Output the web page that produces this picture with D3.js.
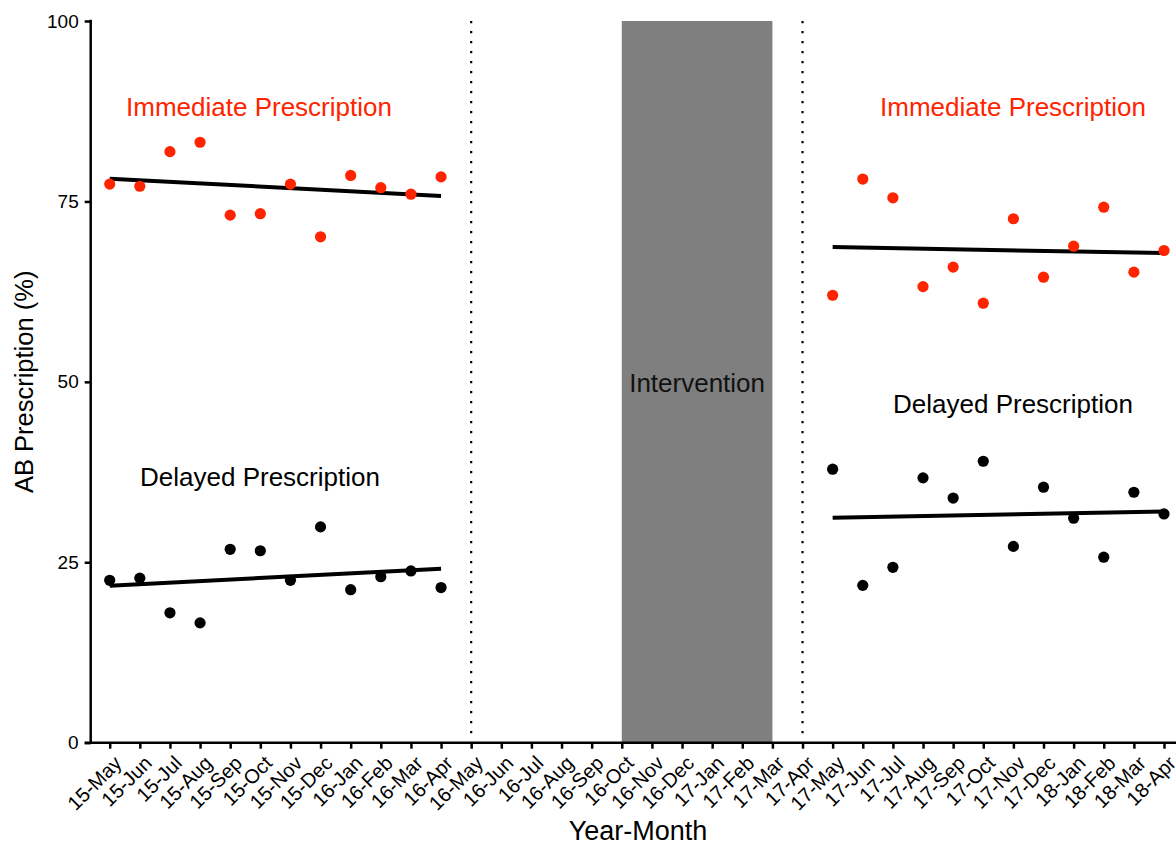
<!DOCTYPE html>
<html>
<head>
<meta charset="utf-8">
<script src="https://cdn.jsdelivr.net/npm/d3@7"></script>
<style>
  html, body { margin: 0; padding: 0; background: #fff; }
  svg { display: block; font-family: "Liberation Sans", Arial, Helvetica, sans-serif; }
</style>
</head>
<body>
<svg id="chart" width="1176" height="846"></svg>
<script>
// ---------- DATA ----------
const months = [
  "15-May","15-Jun","15-Jul","15-Aug","15-Sep","15-Oct","15-Nov","15-Dec","16-Jan","16-Feb","16-Mar","16-Apr",
  "16-May","16-Jun","16-Jul","16-Aug","16-Sep","16-Oct","16-Nov","16-Dec","17-Jan","17-Feb","17-Mar","17-Apr",
  "17-May","17-Jun","17-Jul","17-Aug","17-Sep","17-Oct","17-Nov","17-Dec","18-Jan","18-Feb","18-Mar","18-Apr"
];
const preMonths  = months.slice(0, 12);
const postMonths = months.slice(24, 36);

const preImmediate  = [77.4, 77.1, 81.9, 83.2, 73.1, 73.3, 77.4, 70.1, 78.6, 76.9, 76.0, 78.4];
const preDelayed    = [22.5, 22.8, 18.0, 16.6, 26.8, 26.6, 22.5, 29.9, 21.2, 23.0, 23.8, 21.5];
const postImmediate = [62.0, 78.1, 75.5, 63.2, 65.9, 60.9, 72.6, 64.5, 68.8, 74.2, 65.2, 68.2];
const postDelayed   = [37.9, 21.8, 24.3, 36.7, 33.9, 39.0, 27.2, 35.4, 31.1, 25.7, 34.7, 31.7];

const yTicks = [0, 25, 50, 75, 100];
const dividerMonths = ["16-May", "17-Apr"];
const interventionSpan = ["16-Oct", "17-Mar"];

// ---------- LAYOUT ----------
const svg = d3.select("#chart");
const RED = "#ff2400";
const x = d3.scalePoint().domain(months).range([109.7, 1164]);
const y = d3.scaleLinear().domain([0, 100]).range([742.7, 21]);
const axisX = 90.7;

// Intervention band
svg.append("rect")
  .attr("x", x(interventionSpan[0]))
  .attr("y", y(100))
  .attr("width", x(interventionSpan[1]) - x(interventionSpan[0]))
  .attr("height", y(0) - y(100))
  .attr("fill", "#7f7f7f");

svg.append("text")
  .attr("x", (x(interventionSpan[0]) + x(interventionSpan[1])) / 2)
  .attr("y", 392)
  .attr("text-anchor", "middle")
  .attr("font-size", 26)
  .attr("fill", "#111")
  .text("Intervention");

// Dotted dividers
dividerMonths.forEach(m => {
  svg.append("line")
    .attr("x1", x(m)).attr("x2", x(m))
    .attr("y1", y(100)).attr("y2", y(0) - 2)
    .attr("stroke", "#000")
    .attr("stroke-width", 2.2)
    .attr("stroke-dasharray", "2.2,7.8");
});

// Axes
const yAxis = d3.axisLeft(y).tickValues(yTicks).tickSize(6).tickPadding(6).tickFormat(d3.format("d"));
const gy = svg.append("g").attr("transform", `translate(${axisX},0)`).call(yAxis);
gy.select(".domain").remove();
gy.selectAll(".tick line").attr("stroke", "#000").attr("stroke-width", 2.5);
gy.selectAll(".tick text").attr("font-size", 19).attr("fill", "#000").attr("font-family", null);
svg.append("line")
  .attr("x1", axisX).attr("x2", axisX)
  .attr("y1", y(100) - 1.2).attr("y2", y(0) + 1.2)
  .attr("stroke", "#000").attr("stroke-width", 2.5);

const xAxis = d3.axisBottom(x).tickSize(6).tickPadding(4);
const gx = svg.append("g").attr("transform", `translate(0,${y(0)})`).call(xAxis);
gx.select(".domain").remove();
gx.selectAll(".tick line").attr("stroke", "#000").attr("stroke-width", 2.5);
gx.selectAll(".tick text")
  .attr("font-size", 20)
  .attr("fill", "#000")
  .attr("font-family", null)
  .attr("text-anchor", "end")
  .attr("dy", null)
  .attr("y", 0)
  .attr("transform", "translate(9,18) rotate(-45)")
  .attr("dominant-baseline", "middle");
svg.append("line")
  .attr("x1", axisX - 6).attr("x2", 1176)
  .attr("y1", y(0)).attr("y2", y(0))
  .attr("stroke", "#000").attr("stroke-width", 2.5);

// Axis titles
svg.append("text")
  .attr("transform", `translate(33,${(y(0) + y(100)) / 2}) rotate(-90)`)
  .attr("text-anchor", "middle")
  .attr("font-size", 25.5)
  .attr("fill", "#000")
  .text("AB Prescription (%)");

svg.append("text")
  .attr("x", 638)
  .attr("y", 840)
  .attr("text-anchor", "middle")
  .attr("font-size", 27)
  .attr("fill", "#000")
  .text("Year-Month");

// Regression helper
function fitLine(labels, vals) {
  const n = vals.length;
  const idx = labels.map(m => months.indexOf(m));
  const mx = d3.mean(idx), my = d3.mean(vals);
  let sxy = 0, sxx = 0;
  idx.forEach((xi, i) => { sxy += (xi - mx) * (vals[i] - my); sxx += (xi - mx) * (xi - mx); });
  const b = sxy / sxx, a = my - b * mx;
  return [
    { m: labels[0], v: a + b * idx[0] },
    { m: labels[n - 1], v: a + b * idx[n - 1] }
  ];
}

const series = [
  { labels: preMonths, vals: preImmediate, color: RED },
  { labels: preMonths, vals: preDelayed, color: "#000" },
  { labels: postMonths, vals: postImmediate, color: RED },
  { labels: postMonths, vals: postDelayed, color: "#000" }
];

series.forEach(s => {
  const pts = fitLine(s.labels, s.vals);
  svg.append("path")
    .attr("d", d3.line().x(d => x(d.m)).y(d => y(d.v))(pts))
    .attr("stroke", "#000")
    .attr("stroke-width", 4)
    .attr("fill", "none");
});

series.forEach(s => {
  svg.append("g").selectAll("circle")
    .data(s.vals.map((v, i) => ({ m: s.labels[i], v })))
    .join("circle")
    .attr("cx", d => x(d.m))
    .attr("cy", d => y(d.v))
    .attr("r", 5.6)
    .attr("fill", s.color);
});

// Annotations
const notes = [
  { text: "Immediate Prescription", cx: 259, y: 116, color: RED },
  { text: "Delayed Prescription", cx: 260, y: 486, color: "#000" },
  { text: "Immediate Prescription", cx: 1013, y: 116, color: RED },
  { text: "Delayed Prescription", cx: 1013, y: 413, color: "#000" }
];
notes.forEach(n => {
  svg.append("text")
    .attr("x", n.cx).attr("y", n.y)
    .attr("text-anchor", "middle")
    .attr("font-size", 26)
    .attr("fill", n.color)
    .text(n.text);
});
</script>
</body>
</html>
